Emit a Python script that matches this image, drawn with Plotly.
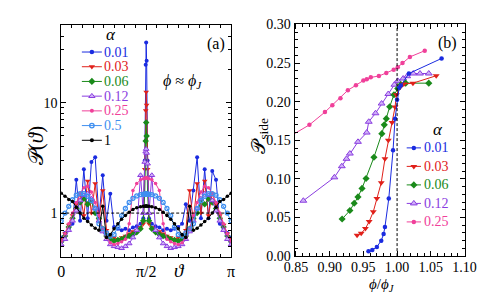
import plotly.graph_objects as go

# ---------------- Panel (a) data: P(theta) at phi ~ phi_J ----------------
THETA_DEG = [0, 4, 8, 12, 16, 20, 24, 28, 32, 36, 40, 44, 48, 52, 56, 60, 64, 68, 72, 76, 80, 84,
             87, 88.5, 89.5, 90, 90.5, 91.5, 93,
             96, 100, 104, 108, 112, 116, 120, 124, 128, 132, 136, 140, 144, 148, 152, 156, 160, 164, 168, 172, 176, 180]

P_A001 = [0.60, 0.66, 0.72, 0.80, 2.00, 0.85, 2.50, 0.90, 2.90, 3.20, 0.90, 2.20, 0.85, 1.50, 0.75, 0.72, 0.70, 0.72, 0.70, 0.74, 0.76, 0.80,
          0.90, 3.0, 22.0, 35.0, 24.0, 3.0, 0.90,
          0.80, 0.76, 0.74, 0.70, 0.72, 0.70, 0.72, 0.75, 0.80, 1.20, 0.85, 1.60, 3.20, 0.90, 2.50, 0.90, 2.40, 2.00, 0.80, 0.72, 0.66, 0.60]
P_A003 = [0.58, 0.65, 0.78, 0.95, 1.20, 1.50, 0.95, 1.95, 1.00, 1.85, 0.85, 1.60, 0.70, 0.62, 0.60, 0.58, 0.60, 0.62, 0.65, 0.68, 0.70, 0.74,
          0.80, 2.5, 8.5, 12.5, 9.5, 2.5, 0.80,
          0.74, 0.70, 0.68, 0.65, 0.62, 0.60, 0.58, 0.60, 0.62, 0.70, 1.60, 0.85, 1.85, 1.00, 1.95, 0.95, 1.50, 1.20, 0.95, 0.78, 0.65, 0.58]
P_A006 = [0.55, 0.62, 0.75, 0.90, 1.10, 1.25, 1.35, 1.20, 1.30, 1.00, 0.90, 0.72, 0.62, 0.58, 0.56, 0.57, 0.58, 0.60, 0.62, 0.64, 0.67, 0.72,
          0.85, 1.5, 4.5, 6.6, 5.0, 1.5, 0.85,
          0.72, 0.67, 0.64, 0.62, 0.60, 0.58, 0.57, 0.56, 0.58, 0.62, 0.72, 0.90, 1.00, 1.30, 1.20, 1.35, 1.25, 1.10, 0.90, 0.75, 0.62, 0.55]
P_A012 = [0.52, 0.58, 0.70, 0.85, 1.05, 1.30, 1.45, 1.50, 1.35, 1.10, 0.85, 0.68, 0.58, 0.52, 0.50, 0.49, 0.48, 0.50, 0.53, 0.60, 0.70, 2.20,
          1.00, 2.9, 3.6, 3.8, 3.5, 2.8, 1.00,
          2.20, 0.70, 0.60, 0.53, 0.50, 0.48, 0.49, 0.50, 0.52, 0.58, 0.68, 0.85, 1.10, 1.35, 1.50, 1.45, 1.30, 1.05, 0.85, 0.70, 0.58, 0.52]
P_A025 = [0.56, 0.65, 0.80, 1.00, 1.25, 1.50, 1.70, 1.75, 1.55, 1.25, 0.95, 0.72, 0.60, 0.54, 0.52, 0.53, 0.55, 0.58, 0.80, 1.60, 1.85, 2.00,
          2.05, 2.07, 2.08, 2.10, 2.08, 2.07, 2.05,
          2.00, 1.85, 1.60, 0.80, 0.58, 0.55, 0.53, 0.52, 0.54, 0.60, 0.72, 0.95, 1.25, 1.55, 1.75, 1.70, 1.50, 1.25, 1.00, 0.80, 0.65, 0.56]
P_A05 = [0.85, 1.00, 1.15, 1.32, 1.45, 1.50, 1.50, 1.42, 1.30, 1.10, 0.80, 0.72, 0.66, 0.62, 0.64, 0.75, 0.95, 1.10, 1.25, 1.36, 1.43, 1.47,
         1.48, 1.48, 1.49, 1.49, 1.49, 1.48, 1.48,
         1.47, 1.43, 1.36, 1.25, 1.10, 0.95, 0.75, 0.64, 0.62, 0.66, 0.72, 0.80, 1.10, 1.30, 1.42, 1.50, 1.50, 1.45, 1.32, 1.15, 1.00, 0.85]
P_A1 = [1.51, 1.42, 1.33, 1.27, 1.13, 1.00, 0.90, 0.84, 0.78, 0.73, 0.70, 1.15, 0.60, 0.64, 0.72, 0.80, 0.88, 0.95, 1.02, 1.08, 1.12, 1.14,
        1.15, 1.15, 1.16, 1.16, 1.16, 1.15, 1.15,
        1.14, 1.12, 1.08, 1.02, 0.95, 0.88, 0.80, 0.72, 0.64, 0.60, 1.15, 0.70, 0.73, 0.78, 0.84, 0.90, 1.00, 1.13, 1.27, 1.33, 1.42, 1.51]

# ---------------- Panel (b) data: P_side vs phi/phi_J ----------------
PHI_001 = [0.9576, 0.9633, 0.970, 0.9765, 0.980, 0.982, 0.9877, 0.994, 0.997, 1.000, 1.003, 1.0056, 1.0175, 1.066]
PS_001 = [0.0061, 0.0078, 0.0119, 0.020, 0.0287, 0.0377, 0.0746, 0.137, 0.178, 0.2025, 0.218, 0.221, 0.2365, 0.256]
PHI_003 = [0.9407, 0.9468, 0.953, 0.9586, 0.9647, 0.970, 0.9765, 0.982, 0.987, 0.9925, 0.997, 0.999, 1.0047, 1.010, 1.0235, 1.058]
PS_003 = [0.027, 0.0295, 0.0357, 0.0447, 0.0574, 0.0746, 0.095, 0.126, 0.150, 0.173, 0.193, 0.209, 0.219, 0.223, 0.224, 0.2336]
PHI_006 = [0.9185, 0.930, 0.9364, 0.942, 0.948, 0.954, 0.9657, 0.9774, 0.981, 0.984, 0.989, 0.9953, 1.001, 1.0056, 1.0127, 1.047]
PS_006 = [0.048, 0.059, 0.0684, 0.0766, 0.0877, 0.1005, 0.128, 0.1586, 0.170, 0.178, 0.1934, 0.209, 0.217, 0.222, 0.224, 0.224]
PHI_012 = [0.861, 0.907, 0.918, 0.925, 0.930, 0.942, 0.955, 0.958, 0.968, 0.977, 0.987, 0.996, 1.001, 1.009, 1.015, 1.024, 1.034, 1.047]
PS_012 = [0.0717, 0.102, 0.1164, 0.126, 0.1328, 0.148, 0.160, 0.174, 0.185, 0.1976, 0.210, 0.222, 0.227, 0.230, 0.233, 0.2365, 0.2365, 0.2365]
PHI_025 = [0.84, 0.870, 0.893, 0.904, 0.916, 0.927, 0.939, 0.950, 0.955, 0.961, 0.973, 0.984, 0.995, 1.001, 1.008, 1.019, 1.041]
PS_025 = [0.1546, 0.170, 0.1865, 0.1955, 0.2045, 0.2148, 0.2213, 0.2275, 0.229, 0.2315, 0.2332, 0.237, 0.2414, 0.2447, 0.250, 0.258, 0.266]

ALPHA_A = ["0.01", "0.03", "0.06", "0.12", "0.25", "0.5", "1"]
ALPHA_B = ["0.01", "0.03", "0.06", "0.12", "0.25"]

# ---------------- styles ----------------
W, H = 485, 295
SERIF = "Liberation Serif, DejaVu Serif, serif"
COL = {"0.01": "#1a2be0", "0.03": "#e0201a", "0.06": "#1a8a1a", "0.12": "#8a3de0",
       "0.25": "#f0409a", "0.5": "#3f8ff0", "1": "#000000"}
MARK = {
    "0.01": dict(symbol="circle", size=4),
    "0.03": dict(symbol="triangle-down", size=5),
    "0.06": dict(symbol="diamond", size=5),
    "0.12": dict(symbol="triangle-up", size=5, line=dict(color=COL["0.12"], width=1), color="#cfb0f7"),
    "0.25": dict(symbol="circle", size=3.5),
    "0.5": dict(symbol="circle-open", size=4, line=dict(width=1.3)),
    "1": dict(symbol="circle", size=3.5),
}


def mk(a, size=None):
    m = dict(MARK[a])
    m.setdefault("color", COL[a])
    if size is not None:
        m["size"] = size
    return m


fig = go.Figure()

# panel (a) traces
series_a = {"0.01": P_A001, "0.03": P_A003, "0.06": P_A006, "0.12": P_A012,
            "0.25": P_A025, "0.5": P_A05, "1": P_A1}
for a in ["0.01", "0.03", "0.06", "0.12", "0.25", "0.5", "1"]:
    fig.add_trace(go.Scatter(x=THETA_DEG, y=series_a[a], mode="lines+markers",
                             line=dict(color=COL[a], width=1), marker=mk(a),
                             xaxis="x", yaxis="y", showlegend=False))
# reference level P = 1
fig.add_trace(go.Scatter(x=[0, 180], y=[1, 1], mode="lines",
                         line=dict(color="black", width=1, dash="3px,2px"),
                         xaxis="x", yaxis="y", showlegend=False))

# panel (b) traces
series_b = {"0.01": (PHI_001, PS_001), "0.03": (PHI_003, PS_003), "0.06": (PHI_006, PS_006),
            "0.12": (PHI_012, PS_012), "0.25": (PHI_025, PS_025)}
bsize = {"0.01": 4.5, "0.03": 6, "0.06": 5.5, "0.12": 6, "0.25": 4.5}
for a in ["0.25", "0.12", "0.06", "0.03", "0.01"]:
    xs, ys = series_b[a]
    fig.add_trace(go.Scatter(x=xs, y=ys, mode="lines+markers",
                             line=dict(color=COL[a], width=1), marker=mk(a, bsize[a]),
                             xaxis="x2", yaxis="y2", showlegend=False))

# ---------------- manual legends (overlay pixel axes) ----------------
ann = []


def px(x, y):
    return x / W, 1 - y / H


def legend_block(items, x0, x1, xm, xt, ys, msizes):
    for a, y in zip(items, ys):
        fig.add_trace(go.Scatter(x=[x0, x1], y=[y, y], mode="lines",
                                 line=dict(color=COL[a], width=1),
                                 xaxis="x3", yaxis="y3", showlegend=False, hoverinfo="skip"))
        fig.add_trace(go.Scatter(x=[xm], y=[y], mode="markers", marker=mk(a, msizes[a]),
                                 xaxis="x3", yaxis="y3", showlegend=False, hoverinfo="skip"))
        tx, ty = px(xt, y)
        ann.append(dict(x=tx, y=ty, xref="paper", yref="paper", text=a, showarrow=False,
                        xanchor="left", yanchor="middle",
                        font=dict(family=SERIF, size=14, color=COL[a])))


legend_block(ALPHA_A, 66, 87, 76.5, 87.5, [39, 54.5, 70, 85.5, 101, 116.5, 132],
             {"0.01": 4.5, "0.03": 5.5, "0.06": 5.5, "0.12": 5.5, "0.25": 4, "0.5": 4.5, "1": 4})
legend_block(ALPHA_B, 407, 422, 414.5, 423.5, [140, 159.5, 179, 198.5, 218], bsize)


def text(x, y, s, size, angle=0, color="black"):
    tx, ty = px(x, y)
    ann.append(dict(x=tx, y=ty, xref="paper", yref="paper", text=s, showarrow=False,
                    xanchor="center", yanchor="middle", textangle=angle,
                    font=dict(family=SERIF, size=size, color=color)))


text(97, 21, "<i>α</i>", 17)
text(440, 121, "<i>α</i>", 17)
text(207, 31, "(a)", 16)
text(450, 30, "(b)", 16)
text(172, 70, "<i>ϕ</i> ≈ <i>ϕ<sub>J</sub></i>", 16)
text(18, 138, "𝒫(<i>ϑ</i>)", 21, angle=-90)
text(169, 269, "<i>ϑ</i>", 19)
text(252, 127, "𝒫<sub>side</sub>", 19, angle=-90)
text(381, 284, "<i>ϕ</i>/<i>ϕ<sub>J</sub></i>", 15)

# ---------------- axes ----------------
axis_common = dict(showline=True, linecolor="black", linewidth=1, mirror="allticks",
                   ticks="inside", ticklen=5, tickcolor="black", tickwidth=1,
                   showgrid=False, zeroline=False,
                   tickfont=dict(family=SERIF, size=14, color="black"))

xa = dict(axis_common, domain=[44.3 / W, 222.7 / W], range=[0, 180],
          tickvals=[0, 90, 180], ticktext=["0", "π/2", "π"], anchor="y",
          tickfont=dict(family=SERIF, size=16, color="black"),
          minor=dict(ticks="inside", ticklen=3, dtick=11.25, tick0=0, tickcolor="black", showgrid=False))
ya = dict(axis_common, domain=[1 - 255 / H, 1 - 11 / H], type="log", range=[-0.398, 1.699],
          tickvals=[1, 10], ticktext=["1", "10"], anchor="x",
          minor=dict(ticks="inside", ticklen=3, tickcolor="black", showgrid=False,
                     tickvals=[0.4, 0.5, 0.6, 0.7, 0.8, 0.9, 2, 3, 4, 5, 6, 7, 8, 9, 20, 30, 40]))
xb = dict(axis_common, domain=[289.3 / W, 467.7 / W], range=[0.848, 1.10],
          tick0=0.85, dtick=0.05, tickformat=".2f", anchor="y2", ticklabelstandoff=-2,
          minor=dict(ticks="inside", ticklen=3, dtick=0.01, tick0=0.85, tickcolor="black", showgrid=False))
yb = dict(axis_common, domain=[1 - 254 / H, 1 - 10 / H], range=[0, 0.30],
          tick0=0, dtick=0.05, tickformat=".2f", anchor="x2",
          minor=dict(ticks="inside", ticklen=3, dtick=0.01, tick0=0, tickcolor="black", showgrid=False))

fig.update_layout(
    width=W, height=H, autosize=False,
    margin=dict(l=0, r=0, t=0, b=0, pad=0),
    paper_bgcolor="white", plot_bgcolor="rgba(0,0,0,0)",
    showlegend=False,
    xaxis=xa, yaxis=ya, xaxis2=xb, yaxis2=yb,
    xaxis3=dict(domain=[0, 1], range=[0, W], visible=False, anchor="y3", fixedrange=True),
    yaxis3=dict(domain=[0, 1], range=[H, 0], visible=False, anchor="x3", fixedrange=True),
    annotations=ann,
    shapes=[dict(type="line", xref="x2", yref="y2 domain", x0=1.0, x1=1.0, y0=0, y1=1,
                 line=dict(color="black", width=1, dash="3px,2px"))],
)

fig.write_html("out.html")
